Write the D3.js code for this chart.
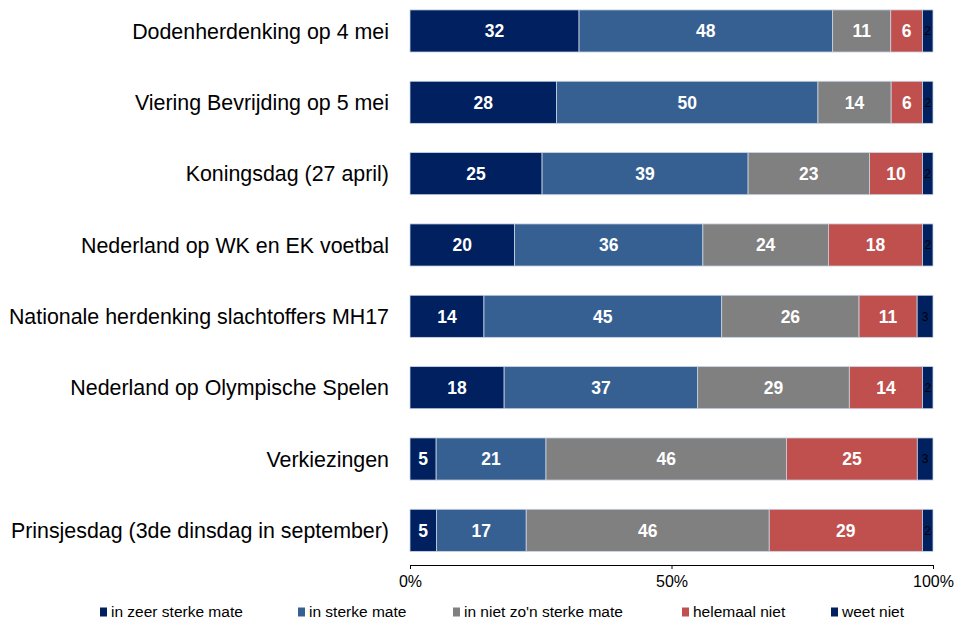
<!DOCTYPE html>
<html>
<head>
<meta charset="utf-8">
<script src="https://cdn.jsdelivr.net/npm/d3@7"></script>
<style>
  body { margin: 0; background: #fff; }
  text { font-family: "Liberation Sans", Arial, sans-serif; }
</style>
</head>
<body>
<div id="chart"></div>
<script>
const categories = [
  'Dodenherdenking op 4 mei',
  'Viering Bevrijding op 5 mei',
  'Koningsdag (27 april)',
  'Nederland op WK en EK voetbal',
  'Nationale herdenking slachtoffers MH17',
  'Nederland op Olympische Spelen',
  'Verkiezingen',
  'Prinsjesdag (3de dinsdag in september)'
];
const seriesNames = ['in zeer sterke mate', 'in sterke mate', 'in niet zo\'n sterke mate', 'helemaal niet', 'weet niet'];
const zeerSterk   = [32, 28, 25, 20, 14, 18, 5, 5];
const sterk       = [48, 50, 39, 36, 45, 37, 21, 17];
const nietZoSterk = [11, 14, 23, 24, 26, 29, 46, 46];
const helemaalNiet = [6, 6, 10, 18, 11, 14, 25, 29];
const weetNiet    = [2, 2, 2, 2, 3, 2, 3, 2];
const tickLabels = ['0%', '50%', '100%'];

const colors = ['#002060', '#376092', '#808080', '#c0504d', '#002060'];
const labelColors = ['#fff', '#fff', '#fff', '#fff', '#000'];

const rows = categories.map((c, i) => ({
  category: c,
  [seriesNames[0]]: zeerSterk[i],
  [seriesNames[1]]: sterk[i],
  [seriesNames[2]]: nietZoSterk[i],
  [seriesNames[3]]: helemaalNiet[i],
  [seriesNames[4]]: weetNiet[i]
}));

const width = 955, height = 620;
const left = 410, right = 933;

const svg = d3.select('#chart').append('svg')
  .attr('width', width)
  .attr('height', height);

const stacked = d3.stack()
  .keys(seriesNames)
  .offset(d3.stackOffsetExpand)(rows);

const x = d3.scaleLinear().domain([0, 1]).range([left, right]);
const y = d3.scaleBand()
  .domain(categories)
  .range([-4.7, 566])
  .paddingInner(0.41)
  .paddingOuter(0.205);

const layer = svg.selectAll('g.series')
  .data(stacked)
  .join('g')
  .attr('class', 'series')
  .attr('fill', (d, i) => colors[i]);

layer.selectAll('rect')
  .data(d => d)
  .join('rect')
  .attr('x', d => x(d[0]))
  .attr('y', d => y(d.data.category))
  .attr('width', d => x(d[1]) - x(d[0]))
  .attr('height', y.bandwidth())
  .attr('stroke', '#c9d3e3')
  .attr('stroke-width', 0.8);

layer.selectAll('text')
  .data((d, i) => d.map(v => ({ v, key: d.key, idx: i })))
  .join('text')
  .attr('x', d => (x(d.v[0]) + x(d.v[1])) / 2)
  .attr('y', d => y(d.v.data.category) + y.bandwidth() / 2)
  .attr('dy', '0.36em')
  .attr('text-anchor', 'middle')
  .attr('fill', d => labelColors[d.idx])
  .attr('font-weight', d => d.idx === 4 ? 'normal' : 'bold')
  .attr('font-size', d => d.idx === 4 ? 12 : 17.5)
  .text(d => d.v.data[d.key]);

// category labels
svg.append('g')
  .selectAll('text')
  .data(categories)
  .join('text')
  .attr('x', 389)
  .attr('y', d => y(d) + y.bandwidth() / 2)
  .attr('dy', '0.36em')
  .attr('text-anchor', 'end')
  .attr('font-size', 21.4)
  .attr('fill', '#000')
  .text(d => d);

// x axis
const axis = svg.append('g')
  .attr('transform', 'translate(0,565)')
  .call(d3.axisBottom(x)
    .tickValues([0, 0.5, 1])
    .tickFormat((d, i) => tickLabels[i])
    .tickSize(4)
    .tickPadding(7));
axis.select('.domain').attr('stroke', '#000');
axis.selectAll('.tick line').attr('stroke', '#000');
axis.selectAll('.tick text')
  .attr('font-size', 16)
  .attr('font-family', '"Liberation Sans", Arial, sans-serif')
  .attr('fill', '#000');

// legend
const legendX = [100, 298, 453, 682, 831];
const legend = svg.append('g')
  .selectAll('g')
  .data(seriesNames)
  .join('g')
  .attr('transform', (d, i) => `translate(${legendX[i]},611)`);
legend.append('rect')
  .attr('x', 0).attr('y', -3.5)
  .attr('width', 7).attr('height', 9)
  .attr('fill', (d, i) => colors[i]);
legend.append('text')
  .attr('x', 11)
  .attr('dy', '0.36em')
  .attr('font-size', 15.5)
  .attr('fill', '#000')
  .text(d => d);
</script>
</body>
</html>
